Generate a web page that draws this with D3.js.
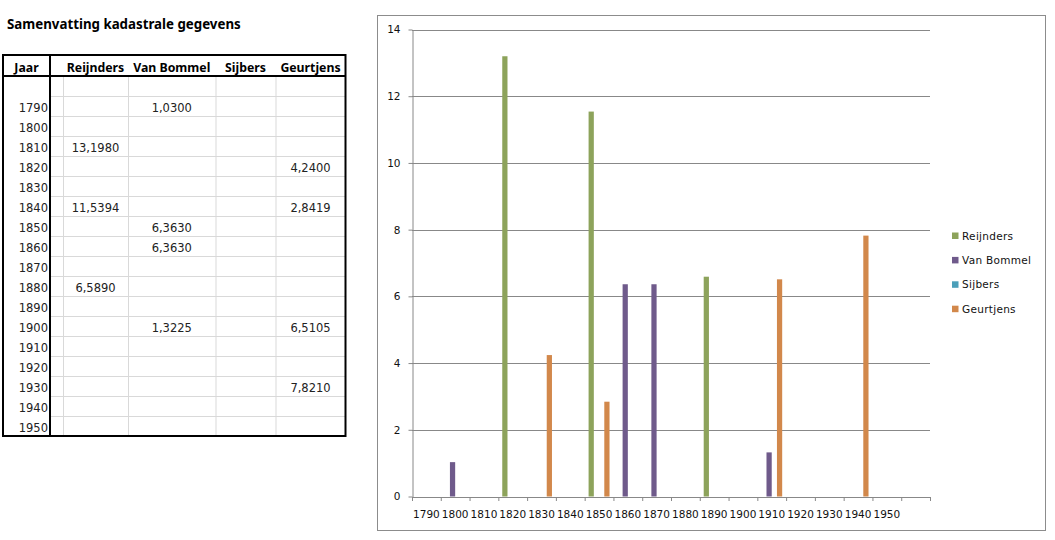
<!DOCTYPE html>
<html>
<head>
<meta charset="utf-8">
<script src="https://cdn.jsdelivr.net/npm/d3@7"></script>
<style>
  body { margin: 0; background: #fff; }
  svg { display: block; }
</style>
</head>
<body>
<div id="chart"></div>
<script>
// table rows (first row is empty, as in the sheet)
const years = ['', '1790', '1800', '1810', '1820', '1830', '1840', '1850', '1860',
  '1870', '1880', '1890', '1900', '1910', '1920', '1930', '1940', '1950']
const seriesNames = ['Reijnders', 'Van Bommel', 'Sijbers', 'Geurtjens']
const reijnders = [null, null, null, 13.198, null, null, 11.5394, null, null, null, 6.589, null, null, null, null, null, null, null]
const vanBommel = [null, 1.03, null, null, null, null, null, 6.363, 6.363, null, null, null, 1.3225, null, null, null, null, null]
const sijbers = [null, null, null, null, null, null, null, null, null, null, null, null, null, null, null, null, null, null]
const geurtjens = [null, null, null, null, 4.24, null, 2.8419, null, null, null, null, null, 6.5105, null, null, 7.821, null, null]
// the chart's category labels are one row lower than its values
const axisLabels = years.slice(1).concat([''])
const yTicks = [0, 2, 4, 6, 8, 10, 12, 14]
const colors = ['#8da35b', '#6f5a8b', '#4b9fb9', '#d2884b']

const values = [reijnders, vanBommel, sijbers, geurtjens]
const svg = d3.select('#chart').append('svg').attr('width', 1055).attr('height', 540)

// ---- table ----
const fmt = v => d3.format('.4f')(v).replace('.', ',')
const colEdges = [3, 50, 63, 128, 215.5, 275.5, 345.5]
const headTop = 55, headBottom = 76, rowH = 20
const tableBottom = headBottom + rowH * years.length

svg.append('text')
  .attr('x', 7).attr('y', 29)
  .style('font-family', 'Noto Sans').style('font-weight', 'bold').style('font-size', '13.3px')
  .text('Samenvatting kadastrale gegevens')

const tbl = svg.append('g')
// light grid
tbl.selectAll('line.row')
  .data(d3.range(1, years.length))
  .enter().append('line')
  .attr('x1', colEdges[1]).attr('x2', colEdges[6])
  .attr('y1', i => headBottom + i * rowH + 0.5).attr('y2', i => headBottom + i * rowH + 0.5)
  .attr('stroke', '#d9d9d9')
tbl.selectAll('line.col')
  .data(colEdges.slice(2, 6))
  .enter().append('line')
  .attr('x1', d => d + 0.5).attr('x2', d => d + 0.5)
  .attr('y1', headBottom).attr('y2', tableBottom)
  .attr('stroke', '#d9d9d9')

// thick borders
tbl.append('rect')
  .attr('x', colEdges[0]).attr('y', headTop)
  .attr('width', colEdges[6] - colEdges[0]).attr('height', tableBottom - headTop)
  .attr('fill', 'none').attr('stroke', '#000').attr('stroke-width', 2)
tbl.append('line')
  .attr('x1', colEdges[0]).attr('x2', colEdges[6])
  .attr('y1', headBottom).attr('y2', headBottom)
  .attr('stroke', '#000').attr('stroke-width', 2)
tbl.append('line')
  .attr('x1', colEdges[1]).attr('x2', colEdges[1])
  .attr('y1', headTop).attr('y2', tableBottom)
  .attr('stroke', '#000').attr('stroke-width', 2)

const headers = ['Jaar', ''].concat(seriesNames)
tbl.selectAll('text.head')
  .data(headers)
  .enter().append('text')
  .attr('x', (d, i) => (colEdges[i] + colEdges[i + 1]) / 2)
  .attr('y', 72)
  .attr('text-anchor', 'middle')
  .style('font-family', 'Noto Sans').style('font-weight', 'bold').style('font-size', '12.3px')
  .text(d => d)

tbl.selectAll('text.year')
  .data(years)
  .enter().append('text')
  .attr('x', colEdges[1] - 2)
  .attr('y', (d, i) => headBottom + (i + 1) * rowH - 4)
  .attr('text-anchor', 'end')
  .style('font-family', 'DejaVu Sans').style('font-size', '11.5px').style('fill', '#222')
  .text(d => d)

values.forEach((arr, s) => {
  const cx = (colEdges[s + 2] + colEdges[s + 3]) / 2
  tbl.selectAll(null)
    .data(arr.map((v, i) => ({ v, i })).filter(d => d.v != null))
    .enter().append('text')
    .attr('x', cx)
    .attr('y', d => headBottom + (d.i + 1) * rowH - 4)
    .attr('text-anchor', 'middle')
    .style('font-family', 'DejaVu Sans').style('font-size', '11.5px').style('fill', '#222')
    .text(d => fmt(d.v))
})

// ---- chart ----
svg.append('rect')
  .attr('x', 377.5).attr('y', 15.5).attr('width', 668).attr('height', 515)
  .attr('fill', '#fff').attr('stroke', '#8c8c8c')

const plotLeft = 412, plotRight = 930, plotTop = 29.5, plotBottom = 496.5
const x = d3.scaleBand().domain(d3.range(years.length)).range([plotLeft, plotRight]).padding(0)
const xs = d3.scaleBand().domain(d3.range(seriesNames.length)).range([0, x.bandwidth()])
  .paddingInner(0).paddingOuter(0.75)
const xLin = d3.scaleLinear().domain([0, years.length]).range([plotLeft, plotRight])
const y = d3.scaleLinear().domain([0, 14]).range([plotBottom, plotTop])

svg.append('g').selectAll('line')
  .data(yTicks.slice(1))
  .enter().append('line')
  .attr('x1', plotLeft).attr('x2', plotRight)
  .attr('y1', d => Math.round(y(d)) + 0.5).attr('y2', d => Math.round(y(d)) + 0.5)
  .attr('stroke', '#888')

values.forEach((arr, s) => {
  svg.append('g').selectAll('rect')
    .data(arr.map((v, i) => ({ v, i })).filter(d => d.v != null))
    .enter().append('rect')
    .attr('x', d => x(d.i) + xs(s))
    .attr('width', xs.bandwidth())
    .attr('y', d => y(d.v))
    .attr('height', d => plotBottom - y(d.v))
    .attr('fill', colors[s])
})

const yAxis = svg.append('g')
  .attr('transform', `translate(${plotLeft + 0.5},0)`)
  .call(d3.axisLeft(y).tickValues(yTicks).tickSizeInner(4).tickSizeOuter(0).tickPadding(8))
const xTicks = svg.append('g')
  .attr('transform', `translate(0,${plotBottom + 0.5})`)
  .call(d3.axisBottom(xLin).tickValues(d3.range(years.length + 1)).tickFormat('').tickSizeInner(4).tickSizeOuter(0))
const xLabels = svg.append('g')
  .attr('transform', `translate(0,${plotBottom})`)
  .call(d3.axisBottom(x).tickFormat(i => axisLabels[i]).tickSize(0).tickPadding(14))
xLabels.select('.domain').remove()

;[yAxis, xTicks].forEach(g => {
  g.select('.domain').attr('stroke', '#888')
  g.selectAll('.tick line').attr('stroke', '#888')
})
;[yAxis, xLabels].forEach(g => {
  g.selectAll('text')
    .style('font-family', 'DejaVu Sans').style('font-size', '10.5px').attr('fill', '#111')
})

const legend = svg.append('g').selectAll('g')
  .data(seriesNames)
  .enter().append('g')
  .attr('transform', (d, i) => `translate(952,${236 + i * 24.4})`)
legend.append('rect')
  .attr('x', 0).attr('y', -3.5).attr('width', 6.5).attr('height', 6.5)
  .attr('fill', (d, i) => colors[i])
legend.append('text')
  .attr('x', 10).attr('y', 3.5)
  .style('font-family', 'DejaVu Sans').style('font-size', '10.5px').style('letter-spacing', '0.3px')
  .attr('fill', '#111')
  .text(d => d)
</script>
</body>
</html>
